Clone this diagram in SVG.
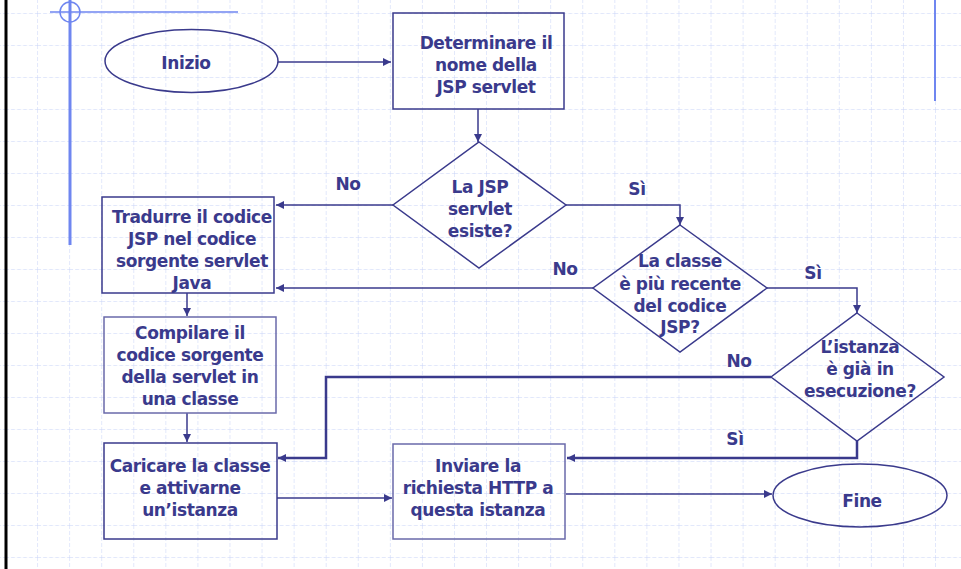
<svg xmlns="http://www.w3.org/2000/svg" width="961" height="569" viewBox="0 0 961 569">
<defs>
<pattern id="grid" x="5" y="13" width="32.07" height="32" patternUnits="userSpaceOnUse">
<line x1="0" y1="0" x2="32.07" y2="0" stroke="#c6d2f7" stroke-width="1" stroke-dasharray="4 2"/>
<line x1="0" y1="0" x2="0" y2="32" stroke="#c6d2f7" stroke-width="1" stroke-dasharray="4 2"/>
</pattern>
<marker id="ah" viewBox="0 0 10 10" refX="10" refY="5" markerWidth="9" markerHeight="8" markerUnits="userSpaceOnUse" orient="auto">
<path d="M0,0 L10,5 L0,10 Z" fill="#3a3a8c"/>
</marker>
</defs>
<style>
.shape{fill:none;stroke:#3a3a8c;stroke-width:1.5}
.lite{fill:none;stroke:#6a6aaa;stroke-width:1.5}
.t{font-family:"DejaVu Sans",Verdana,sans-serif;font-weight:bold;font-size:17px;letter-spacing:-0.4px;fill:#3a3a8c;text-anchor:middle}
.c{fill:none;stroke:#3a3a8c;stroke-width:1.5}
.ct{fill:none;stroke:#3a3a8c;stroke-width:2.5}
.deco{stroke:#6f86f0;fill:none}
</style>
<rect x="0" y="0" width="961" height="569" fill="#ffffff"/>
<rect x="0" y="0" width="961" height="569" fill="url(#grid)"/>
<g id="decor">
<line x1="6" y1="0" x2="6" y2="569" stroke="#000000" stroke-width="3"/>
<line class="deco" x1="70" y1="0" x2="70" y2="245" stroke-width="3"/>
<line class="deco" x1="50" y1="12" x2="238" y2="12" stroke-width="1.5"/>
<circle class="deco" cx="70" cy="12" r="10" stroke-width="1.5"/>
<line class="deco" x1="935" y1="0" x2="935" y2="101" stroke-width="2"/>
</g>
<g id="connectors">
<line class="c" x1="278" y1="62" x2="391" y2="62" marker-end="url(#ah)"/>
<line class="c" x1="478" y1="109" x2="478" y2="142" marker-end="url(#ah)"/>
<line class="c" x1="393" y1="205" x2="276" y2="205" marker-end="url(#ah)"/>
<polyline class="c" points="566,205 680,205 680,225" marker-end="url(#ah)"/>
<line class="c" x1="593" y1="288" x2="276" y2="288" marker-end="url(#ah)"/>
<polyline class="c" points="767,288 857,288 857,313" marker-end="url(#ah)"/>
<line class="c" x1="187" y1="293" x2="187" y2="316" marker-end="url(#ah)"/>
<line class="c" x1="187" y1="413" x2="187" y2="442" marker-end="url(#ah)"/>
<polyline class="ct" points="771,377 326,377 326,458 278,458" marker-end="url(#ah)"/>
<polyline class="ct" points="857,441 857,458 567,458" marker-end="url(#ah)"/>
<line class="c" x1="277" y1="498" x2="392" y2="498" marker-end="url(#ah)"/>
<line class="c" x1="566" y1="494" x2="772" y2="494" marker-end="url(#ah)"/>
<text class="t" x="348" y="190">No</text>
<text class="t" x="637" y="195">Sì</text>
<text class="t" x="565" y="275">No</text>
<text class="t" x="813" y="279">Sì</text>
<text class="t" x="739" y="367">No</text>
<text class="t" x="735" y="445">Sì</text>
</g>
<g id="inizio">
<ellipse class="shape" cx="191.5" cy="61" rx="86.5" ry="31.5"/>
<text class="t" x="186" y="69">Inizio</text>
</g>
<g id="determinare">
<rect class="shape" x="393" y="13" width="171" height="96"/>
<text class="t" x="486" y="49">Determinare il</text>
<text class="t" x="486" y="71">nome della</text>
<text class="t" x="486" y="93">JSP servlet</text>
</g>
<g id="esiste">
<polygon class="shape" points="479,142 566,205 479,268 393,205"/>
<text class="t" x="480" y="193">La JSP</text>
<text class="t" x="480" y="215">servlet</text>
<text class="t" x="480" y="237">esiste?</text>
</g>
<g id="tradurre">
<rect class="shape" x="102" y="197" width="172" height="96"/>
<text class="t" x="192" y="223">Tradurre il codice</text>
<text class="t" x="192" y="245">JSP nel codice</text>
<text class="t" x="192" y="267">sorgente servlet</text>
<text class="t" x="192" y="289">Java</text>
</g>
<g id="recente">
<polygon class="shape" points="680,225 767,288 680,352 593,288"/>
<text class="t" x="680" y="267">La classe</text>
<text class="t" x="680" y="290">è più recente</text>
<text class="t" x="680" y="312">del codice</text>
<text class="t" x="680" y="333">JSP?</text>
</g>
<g id="compilare">
<rect class="lite" x="104" y="317" width="172" height="96"/>
<text class="t" x="190" y="339">Compilare il</text>
<text class="t" x="190" y="361">codice sorgente</text>
<text class="t" x="190" y="383">della servlet in</text>
<text class="t" x="190" y="405">una classe</text>
</g>
<g id="esecuzione">
<polygon class="shape" points="857,313 944,377 857,441 771,377"/>
<text class="t" x="860" y="353">L’istanza</text>
<text class="t" x="860" y="375">è già in</text>
<text class="t" x="860" y="397">esecuzione?</text>
</g>
<g id="caricare">
<rect class="shape" x="104" y="443" width="173" height="96"/>
<text class="t" x="190" y="472">Caricare la classe</text>
<text class="t" x="190" y="494">e attivarne</text>
<text class="t" x="190" y="516">un’istanza</text>
</g>
<g id="inviare">
<rect class="lite" x="393" y="444" width="172" height="95"/>
<text class="t" x="478" y="472">Inviare la</text>
<text class="t" x="478" y="494">richiesta HTTP a</text>
<text class="t" x="478" y="516">questa istanza</text>
</g>
<g id="fine">
<ellipse class="shape" cx="860" cy="495.5" rx="87" ry="31.5"/>
<text class="t" x="862" y="507">Fine</text>
</g>
</svg>
